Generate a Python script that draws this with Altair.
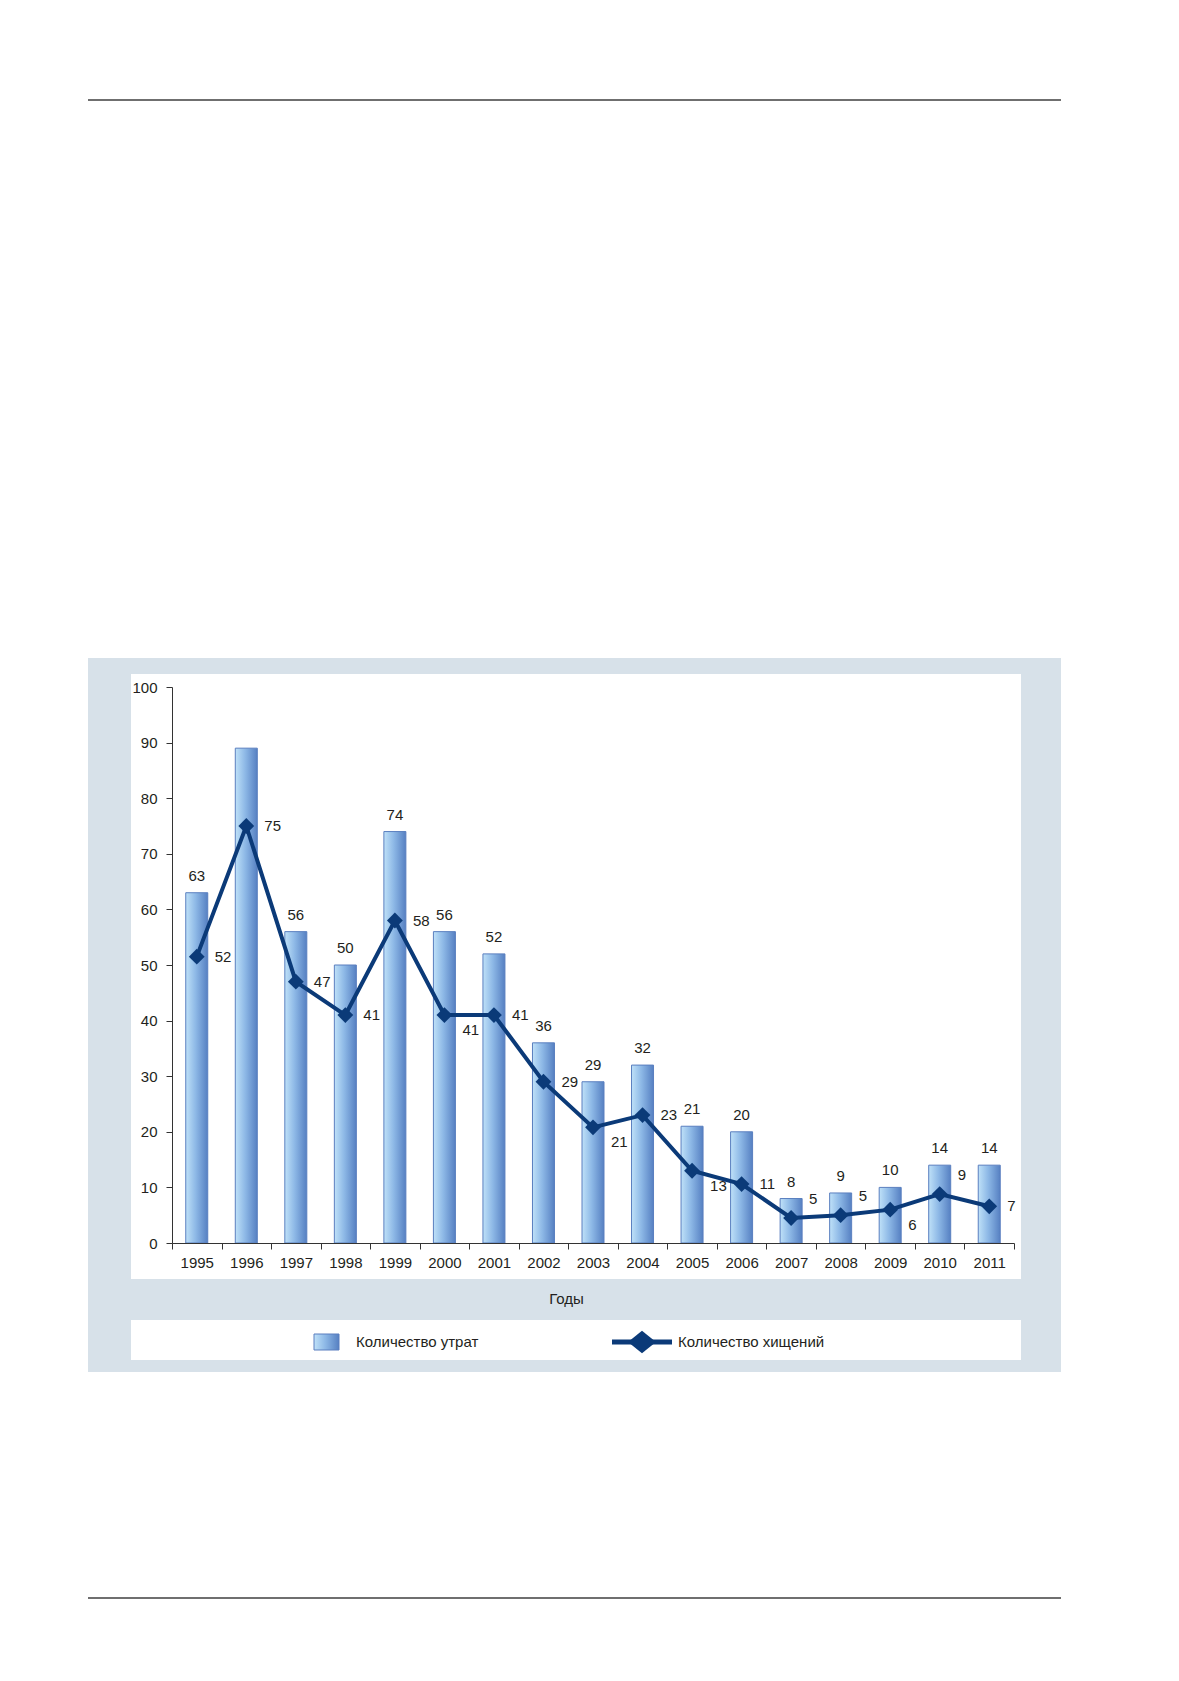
import altair as alt
import pandas as pd

# ---- data ----
YEARS = [str(y) for y in range(1995, 2012)]
LOSSES = [63, 89, 56, 50, 74, 56, 52, 36, 29, 32, 21, 20, 8, 9, 10, 14, 14]
LOSS_LABELS = ["63", "", "56", "50", "74", "56", "52", "36", "29", "32",
               "21", "20", "8", "9", "10", "14", "14"]
THEFTS = [51.5, 75, 47, 41, 58, 41, 41, 29, 20.8, 23, 13, 10.6, 4.5, 5, 6, 8.8, 6.6]
THEFT_LABELS = ["52", "75", "47", "41", "58", "41", "41", "29", "21", "23",
                "13", "11", "5", "5", "6", "9", "7"]
THEFT_LABEL_PLACE = ["right", "right", "right", "right", "right", "below", "right",
                     "right", "below", "right", "below", "right", "above", "above",
                     "below", "above", "right"]
SERIES_NAMES = ["Количество утрат", "Количество хищений"]
X_TITLE = "Годы"
Y_TICKS = list(range(0, 101, 10))

df = pd.DataFrame({
    "year": YEARS,
    "losses": LOSSES,
    "loss_label": LOSS_LABELS,
    "thefts": THEFTS,
    "theft_label": THEFT_LABELS,
    "place": THEFT_LABEL_PLACE,
})

FONT = "Liberation Sans Narrow, Liberation Sans, Arial, sans-serif"
FS = 15
TXT = "#231f20"
NAVY = "#0b3a78"
PANEL = "#d7e1e9"
BAR_GRAD = alt.LinearGradient(
    gradient="linear",
    stops=[alt.GradientStop(color="#bfe1f8", offset=0),
           alt.GradientStop(color="#8db8e6", offset=0.45),
           alt.GradientStop(color="#5680c2", offset=1)],
    x1=0, x2=1, y1=0, y2=0,
)

one = pd.DataFrame({"k": [0]})
W, H = 842, 556

x_enc = alt.X(
    "year:N", sort=None,
    scale=alt.Scale(paddingInner=0, paddingOuter=0),
    axis=alt.Axis(
        title=X_TITLE, labelAngle=0, tickBand="extent", tickSize=6,
        labelPadding=6, domainColor="#333333", tickColor="#333333", zindex=1,
        labelFont=FONT, labelFontSize=FS, labelColor=TXT,
        titleFont=FONT, titleFontSize=FS, titleColor=TXT, titleFontWeight="normal",
        titleX=394, titleY=55, titleBaseline="middle", titleAlign="center",
    ),
)
y_scale = alt.Scale(domain=[0, 100], nice=False)
y_axis = alt.Axis(
    values=Y_TICKS, title=None, grid=False, tickSize=6, labelPadding=9,
    domainColor="#333333", tickColor="#333333", zindex=1,
    labelFont=FONT, labelFontSize=FS, labelColor=TXT,
)

# ---- decorative frame ----
panel = alt.Chart(one).mark_rect(color=PANEL).encode(
    x=alt.value(-84), x2=alt.value(889), y=alt.value(-29), y2=alt.value(685))
white_box = alt.Chart(one).mark_rect(color="white").encode(
    x=alt.value(-41), x2=alt.value(849), y=alt.value(-13), y2=alt.value(592))
legend_box = alt.Chart(one).mark_rect(color="white").encode(
    x=alt.value(-41), x2=alt.value(849), y=alt.value(633), y2=alt.value(673))
top_rule = alt.Chart(one).mark_rule(color="#6f6f6f", strokeWidth=2).encode(
    x=alt.value(-84), x2=alt.value(889), y=alt.value(-587))
bottom_rule = alt.Chart(one).mark_rule(color="#6f6f6f", strokeWidth=2).encode(
    x=alt.value(-84), x2=alt.value(889), y=alt.value(911))

# ---- data layers ----
base = alt.Chart(df)
bars = base.mark_bar(size=22, fill=BAR_GRAD, stroke="#5a7fbf", strokeWidth=1).encode(
    x=x_enc, y=alt.Y("losses:Q", scale=y_scale, axis=y_axis))
bar_labels = base.mark_text(baseline="alphabetic", dy=-12, font=FONT, fontSize=FS,
                            color=TXT).encode(
    x=alt.X("year:N", sort=None), y=alt.Y("losses:Q"), text="loss_label:N")
line = base.mark_line(color=NAVY, strokeWidth=4).encode(
    x=alt.X("year:N", sort=None), y=alt.Y("thefts:Q"))
points = base.mark_point(shape="diamond", filled=True, size=250, color=NAVY,
                         opacity=1).encode(
    x=alt.X("year:N", sort=None), y=alt.Y("thefts:Q"))


def theft_text(place, dy):
    return base.transform_filter(alt.datum.place == place).mark_text(
        align="left", baseline="middle", dx=18, dy=dy, font=FONT, fontSize=FS,
        color=TXT).encode(x=alt.X("year:N", sort=None), y=alt.Y("thefts:Q"),
                          text="theft_label:N")


lbl_right = theft_text("right", 0)
lbl_below = theft_text("below", 15)
lbl_above = theft_text("above", -19)

# ---- legend ----
leg = pd.DataFrame({"name": SERIES_NAMES})
leg_swatch = alt.Chart(one).mark_rect(fill=BAR_GRAD, stroke="#5a7fbf",
                                      strokeWidth=1).encode(
    x=alt.value(142), x2=alt.value(167), y=alt.value(647), y2=alt.value(663))
leg_text1 = alt.Chart(leg).transform_filter(
    alt.datum.name == SERIES_NAMES[0]).mark_text(
    align="left", baseline="middle", font=FONT, fontSize=FS, color=TXT).encode(
    x=alt.value(184), y=alt.value(655), text="name:N")
leg_line = alt.Chart(one).mark_rule(color=NAVY, strokeWidth=5).encode(
    x=alt.value(440), x2=alt.value(500), y=alt.value(655))
leg_diamond = alt.Chart(one).mark_point(
    shape="M0,-0.8L1,0L0,0.8L-1,0Z", filled=True, size=780, color=NAVY,
    opacity=1).encode(x=alt.value(470), y=alt.value(655))
leg_text2 = alt.Chart(leg).transform_filter(
    alt.datum.name == SERIES_NAMES[1]).mark_text(
    align="left", baseline="middle", font=FONT, fontSize=FS, color=TXT).encode(
    x=alt.value(506), y=alt.value(655), text="name:N")

chart = alt.layer(
    panel, white_box, legend_box, top_rule, bottom_rule,
    bars, bar_labels, line, points, lbl_right, lbl_below, lbl_above,
    leg_swatch, leg_text1, leg_line, leg_diamond, leg_text2,
).properties(
    width=W, height=H,
    autosize=alt.AutoSizeParams(type="none"),
    padding={"left": 164, "top": 679, "right": 157, "bottom": 370},
    background="white",
).configure_view(stroke=None)

chart.save("out.html", embed_options={"renderer": "svg", "actions": False})
